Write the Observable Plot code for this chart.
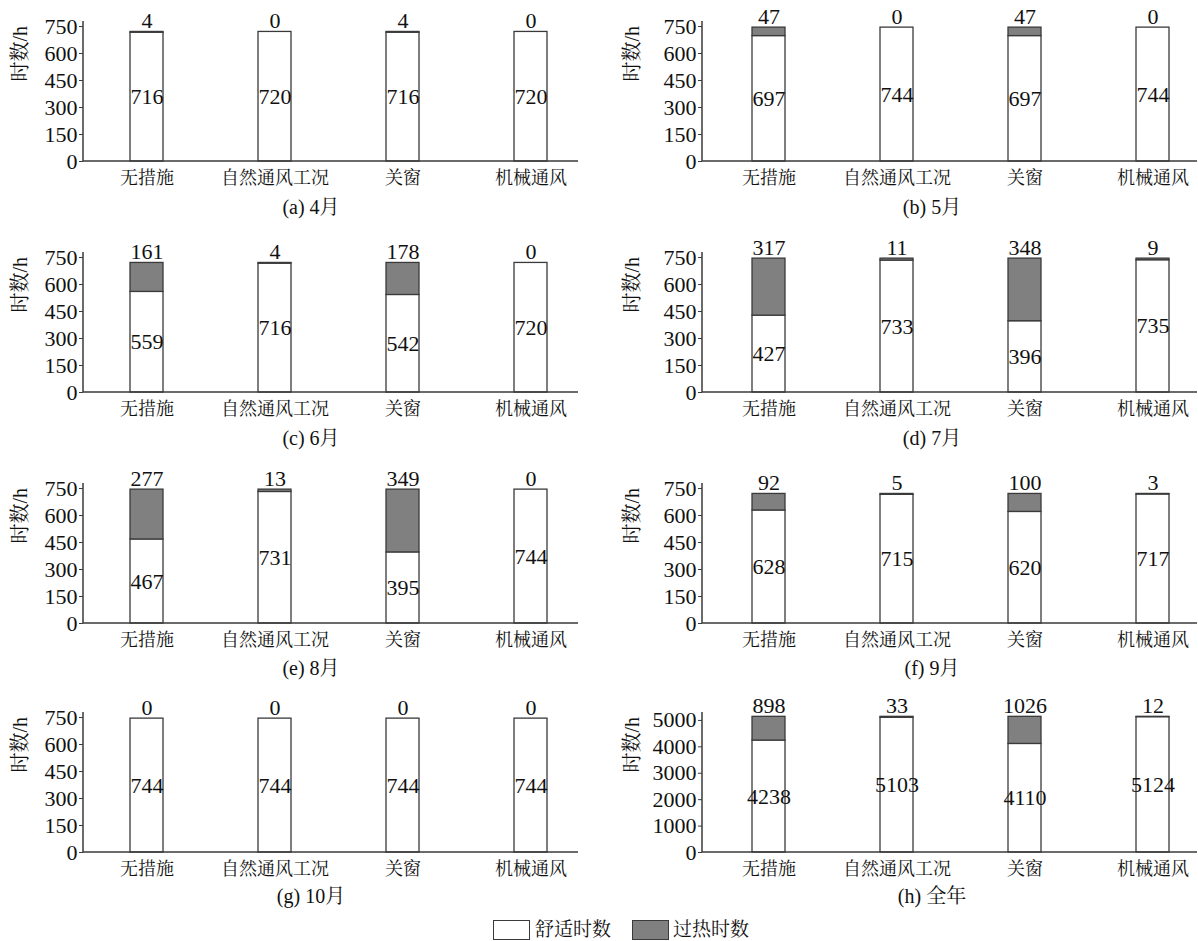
<!DOCTYPE html>
<html>
<head>
<meta charset="utf-8">
<script src="https://cdn.jsdelivr.net/npm/d3@7"></script>
<script src="https://cdn.jsdelivr.net/npm/@observablehq/plot@0.6"></script>
<style>
  body { margin: 0; background: #fff; }
  #root { position: relative; width: 1198px; height: 941px; overflow: hidden; background: #fff;
          font-family: "Liberation Serif", "Noto Serif CJK SC", "Noto Sans CJK SC", serif; color: #111; }
  .panel { position: absolute; }
  .sub { position: absolute; width: 200px; text-align: center; font-size: 20px; line-height: 22px; white-space: nowrap; }
  .lgbox { position: absolute; box-sizing: border-box; width: 37px; height: 20px; border: 1.5px solid #3a3a3a; }
  .lgtxt { position: absolute; font-size: 19px; line-height: 22px; white-space: nowrap; }
</style>
</head>
<body>
<div id="root"></div>
<script>
// ---------- data ----------
const categories = ["无措施", "自然通风工况", "关窗", "机械通风"];
const seriesNames = ["舒适时数", "过热时数"];
const panelTitles = ["(a) 4月", "(b) 5月", "(c) 6月", "(d) 7月", "(e) 8月", "(f) 9月", "(g) 10月", "(h) 全年"];
const yLabel = "时数/h";
const ticksMonth = [0, 150, 300, 450, 600, 750];
const ticksYear = [0, 1000, 2000, 3000, 4000, 5000];

const comfortApr = [716, 720, 716, 720];
const overheatApr = [4, 0, 4, 0];
const comfortMay = [697, 744, 697, 744];
const overheatMay = [47, 0, 47, 0];
const comfortJun = [559, 716, 542, 720];
const overheatJun = [161, 4, 178, 0];
const comfortJul = [427, 733, 396, 735];
const overheatJul = [317, 11, 348, 9];
const comfortAug = [467, 731, 395, 744];
const overheatAug = [277, 13, 349, 0];
const comfortSep = [628, 715, 620, 717];
const overheatSep = [92, 5, 100, 3];
const comfortOct = [744, 744, 744, 744];
const overheatOct = [0, 0, 0, 0];
const comfortYear = [4238, 5103, 4110, 5124];
const overheatYear = [898, 33, 1026, 12];

const panels = [
  {title: panelTitles[0], comfort: comfortApr, overheat: overheatApr, ticks: ticksMonth, yMax: 778},
  {title: panelTitles[1], comfort: comfortMay, overheat: overheatMay, ticks: ticksMonth, yMax: 778},
  {title: panelTitles[2], comfort: comfortJun, overheat: overheatJun, ticks: ticksMonth, yMax: 778},
  {title: panelTitles[3], comfort: comfortJul, overheat: overheatJul, ticks: ticksMonth, yMax: 778},
  {title: panelTitles[4], comfort: comfortAug, overheat: overheatAug, ticks: ticksMonth, yMax: 778},
  {title: panelTitles[5], comfort: comfortSep, overheat: overheatSep, ticks: ticksMonth, yMax: 778},
  {title: panelTitles[6], comfort: comfortOct, overheat: overheatOct, ticks: ticksMonth, yMax: 778},
  {title: panelTitles[7], comfort: comfortYear, overheat: overheatYear, ticks: ticksYear, yMax: 5300}
];

// ---------- layout ----------
const baselines = [161, 392, 623, 852];
const subCenters = [207, 438, 668, 896];
const FONT = '"Liberation Serif", "Noto Serif CJK SC", "Noto Sans CJK SC", serif';
const root = document.getElementById("root");

function axisLines(index, scales, values, dims) {
  const g = d3.create("svg:g").attr("stroke", "#3a3a3a").attr("stroke-width", 1.5);
  const x0 = dims.marginLeft, x1 = dims.width - dims.marginRight;
  const y0 = dims.marginTop, y1 = dims.height - dims.marginBottom;
  g.append("line").attr("x1", x0).attr("x2", x0).attr("y1", y0).attr("y2", y1);
  g.append("line").attr("x1", x0).attr("x2", x1).attr("y1", y1).attr("y2", y1);
  return g.node();
}

panels.forEach((p, k) => {
  const left = k % 2 === 0;
  const row = Math.floor(k / 2);
  const rows = [];
  const totals = [];
  categories.forEach((c, i) => {
    rows.push({cat: c, series: seriesNames[0], value: p.comfort[i]});
    rows.push({cat: c, series: seriesNames[1], value: p.overheat[i]});
    totals.push({cat: c, comfort: p.comfort[i], overheat: p.overheat[i], total: p.comfort[i] + p.overheat[i]});
  });
  const chart = Plot.plot({
    width: left ? 600 : 598,
    height: 200,
    marginLeft: left ? 83 : 102,
    marginRight: left ? 22 : 1,
    marginTop: 25,
    marginBottom: 35,
    x: {domain: categories, range: left ? [35.5, 642.5] : [56.3, 664.7], padding: 0.742},
    y: {domain: [0, p.yMax]},
    color: {domain: seriesNames, range: ["#ffffff", "#808080"]},
    style: {fontFamily: FONT, fontSize: "22px", color: "#111", background: "transparent", overflow: "visible"},
    marks: [
      Plot.barY(rows, {x: "cat", y: "value", fill: "series", stroke: "#3a3a3a", strokeWidth: 1.3, order: seriesNames}),
      Plot.text(totals, {x: "cat", y: d => d.comfort / 2, text: d => String(d.comfort), fontSize: 22, fill: "#111"}),
      Plot.text(totals, {x: "cat", y: "total", text: d => String(d.overheat), lineAnchor: "bottom", dy: -4, fontSize: 22, fill: "#111"}),
      Plot.axisY({ticks: p.ticks, tickFormat: d => String(d), tickSize: 4, tickPadding: 2, fontSize: 22, label: null, color: "#111", stroke: "#3a3a3a"}),
      Plot.axisX({tickSize: 0, tickPadding: 10, fontSize: 18, label: null, color: "#111"}),
      Plot.text([yLabel], {frameAnchor: "left", rotate: -90, dx: left ? -63 : -70, dy: -10, fontSize: 20, fill: "#111"}),
      axisLines
    ]
  });
  chart.classList.add("panel");
  chart.style.left = (left ? 0 : 600) + "px";
  chart.style.top = (baselines[row] - 165) + "px";
  root.appendChild(chart);

  const sub = document.createElement("div");
  sub.className = "sub";
  sub.textContent = p.title;
  sub.style.left = ((left ? 311 : 932) - 100) + "px";
  sub.style.top = (subCenters[row] - 11) + "px";
  root.appendChild(sub);
});

// legend
const legendItems = [
  {label: seriesNames[0], fill: "#ffffff", boxX: 493, textX: 535},
  {label: seriesNames[1], fill: "#808080", boxX: 632, textX: 673}
];
legendItems.forEach(it => {
  const b = document.createElement("div");
  b.className = "lgbox";
  b.style.left = it.boxX + "px";
  b.style.top = "920px";
  b.style.background = it.fill;
  root.appendChild(b);
  const t = document.createElement("div");
  t.className = "lgtxt";
  t.textContent = it.label;
  t.style.left = it.textX + "px";
  t.style.top = "919px";
  root.appendChild(t);
});
</script>
</body>
</html>
